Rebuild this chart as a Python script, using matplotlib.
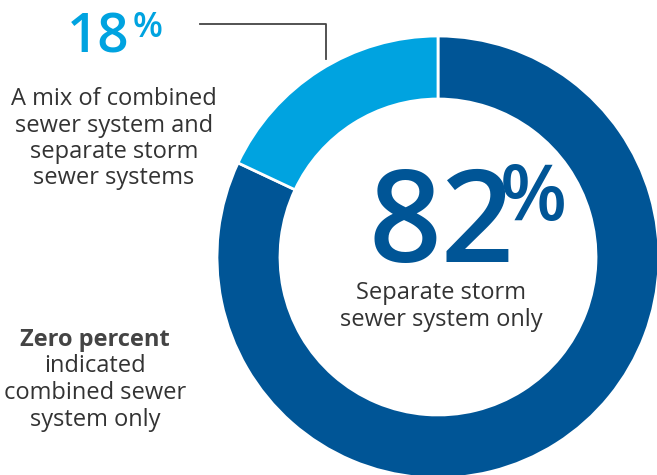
import matplotlib
matplotlib.use("Agg")
import matplotlib.pyplot as plt

# Survey shares by sewer system type
categories = ["Separate storm sewer system only",
              "A mix of combined sewer system and separate storm sewer systems"]
shares = [82, 18]
colors = ["#005596", "#00A3E0"]

mix_lines = ["A mix of combined", "sewer system and", "separate storm", "sewer systems"]
zero_lines = ["Zero percent", "indicated", "combined sewer", "system only"]
centre_lines = ["Separate storm", "sewer system only"]

W, H = 657, 475
fig = plt.figure(figsize=(W / 100, H / 100), dpi=100)
ax = fig.add_axes([0, 0, 1, 1])

def py(y):
    # convert top-down pixel row into data y
    return H - y

ax.pie(shares, colors=colors, startangle=90, counterclock=False,
       center=(438, py(257)), radius=221, frame=True,
       wedgeprops=dict(width=63, edgecolor="white", linewidth=2))
ax.set_xlim(0, W)
ax.set_ylim(0, H)
ax.set_aspect("equal")
ax.axis("off")

font = "Open Sans"
txt = "#333333"
step = 26.5

def stack(lines, x, y0, **kw):
    for i, line in enumerate(lines):
        ax.text(x, py(y0 + i * step), line, fontsize=17, family=font,
                ha="center", va="baseline", **kw)

# 18% callout
ax.text(67, py(52.5), f"{shares[1]}", fontsize=39.5, color=colors[1], family=font,
        fontweight="semibold", ha="left", va="baseline")
ax.text(133, py(37), "%", fontsize=25, color=colors[1], family=font,
        fontweight="semibold", ha="left", va="baseline")
stack(mix_lines, 114, 105, color=txt)
ax.plot([200, 326, 326], [py(24), py(24), py(59)], color="#444444", lw=1.3)

# zero-percent note
ax.text(95, py(346), zero_lines[0], fontsize=17, color="#444444", family=font,
        fontweight="bold", ha="center", va="baseline")
stack(zero_lines[1:], 95, 346 + step, color=txt)

# 82% centre label
ax.text(368, py(262), f"{shares[0]}", fontsize=92, color=colors[0], family=font,
        fontweight="semibold", ha="left", va="baseline")
ax.text(500, py(220), "%", fontsize=56, color=colors[0], family=font,
        fontweight="semibold", ha="left", va="baseline")
stack(centre_lines, 441, 299, color=txt)

fig.savefig("out.png", dpi=100)
